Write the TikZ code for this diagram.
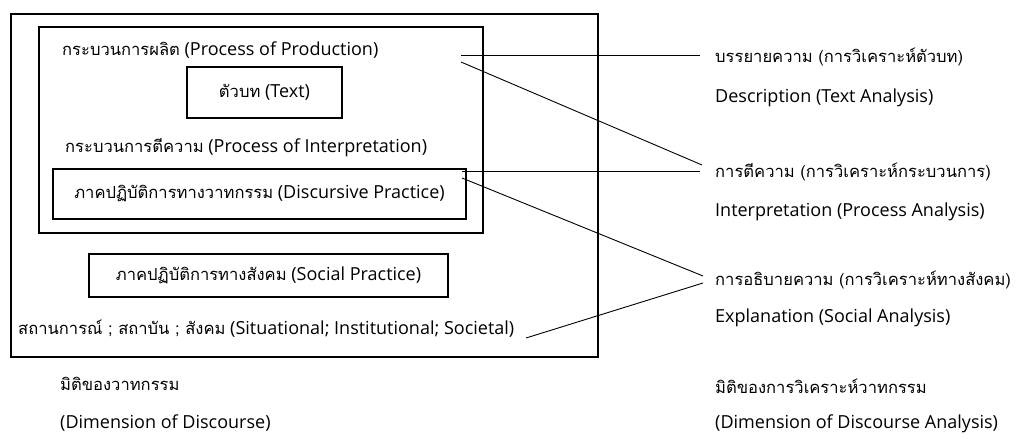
\documentclass[tikz,border=0pt]{standalone}
\usepackage{fontspec}
\setmainfont{Open Sans}
\newfontfamily\thaifont[Script=Thai,Scale=0.92]{Loma}
\newcommand\thtxt[1]{{\thaifont #1}}
\begin{document}
\begin{tikzpicture}[x=1pt,y=-1pt,
  every node/.style={inner sep=0pt,font=\fontsize{18}{21}\selectfont},
  thickbox/.style={draw,line width=1.7pt},
  thinbox/.style={draw,line width=1.2pt},
  conn/.style={line width=0.9pt},
  lbl/.style={anchor=west}]
\useasboundingbox (0,0) rectangle (1018,443);
% boxes
\draw[thickbox] (11,14) rectangle (598,357);
\draw[thickbox] (39,27) rectangle (483,233);
\node[thinbox,minimum width=155pt,minimum height=51pt] (text) at (264.5,92.5) {\thtxt{ตัวบท} (Text)};
\node[thinbox,minimum width=413pt,minimum height=50pt] (disc) at (259.5,194) {\thtxt{ภาคปฏิบัติการทางวาทกรรม} (Discursive Practice)};
\node[thinbox,minimum width=359pt,minimum height=43pt] (soc) at (268.5,275.5) {\thtxt{ภาคปฏิบัติการทางสังคม} (Social Practice)};
% labels
\node[lbl] (prod) at (62,50) {\thtxt{กระบวนการผลิต} (Process of Production)};
\node[lbl] (interp) at (65,148) {\thtxt{กระบวนการตีความ} (Process of Interpretation)};
\node[lbl] (situ) at (18,329) {\thtxt{สถานการณ์ ; สถาบัน ; สังคม} (Situational; Institutional; Societal)};
\node[lbl] (dim1) at (60,384) {\thtxt{มิติของวาทกรรม}};
\node[lbl] (dim2) at (60,423) {(Dimension of Discourse)};
\node[lbl] (r1a) at (715,57) {\thtxt{บรรยายความ (การวิเคราะห์ตัวบท)}};
\node[lbl] (r1b) at (715,98) {Description (Text Analysis)};
\node[lbl] (r2a) at (715,172) {\thtxt{การตีความ (การวิเคราะห์กระบวนการ)}};
\node[lbl] (r2b) at (715,212) {Interpretation (Process Analysis)};
\node[lbl] (r3a) at (715,280) {\thtxt{การอธิบายความ (การวิเคราะห์ทางสังคม)}};
\node[lbl] (r3b) at (715,318) {Explanation (Social Analysis)};
\node[lbl] (r4a) at (715,386) {\thtxt{มิติของการวิเคราะห์วาทกรรม}};
\node[lbl] (r4b) at (715,424) {(Dimension of Discourse Analysis)};
% connector end points
\coordinate (p1) at (461,55);
\coordinate (p2) at (461,62);
\coordinate (p3) at (462,171);
\coordinate (p4) at (462,178);
\coordinate (p5) at (526,338);
\coordinate (e1) at (700,55);
\coordinate (e2) at (702,165);
\coordinate (e3) at (700,171);
\coordinate (e4) at (703,276);
\coordinate (e5) at (703,283);
\draw[conn] (p1) -- (e1);
\draw[conn] (p2) -- (e2);
\draw[conn] (p3) -- (e3);
\draw[conn] (p4) -- (e4);
\draw[conn] (p5) -- (e5);
\end{tikzpicture}
\end{document}
